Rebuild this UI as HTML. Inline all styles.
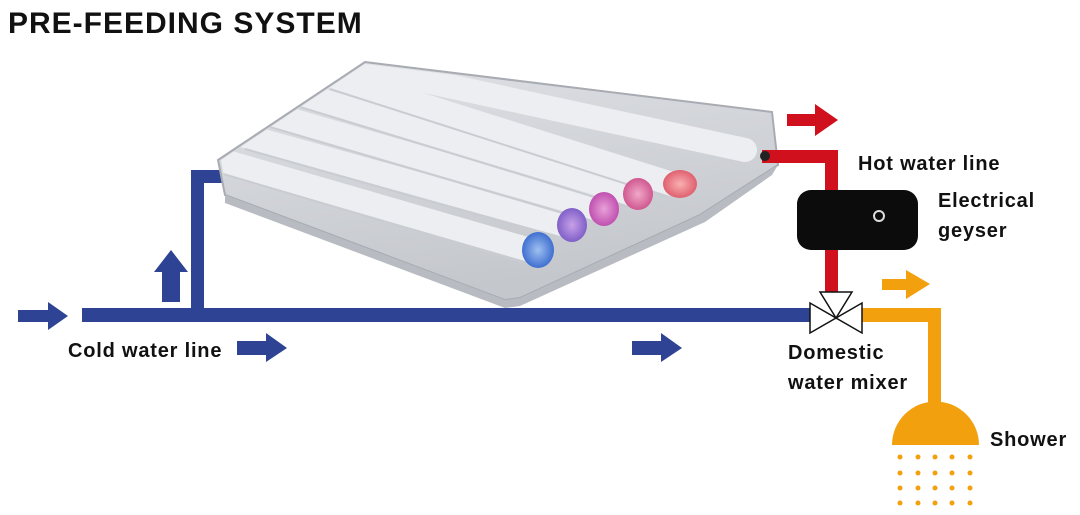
<!DOCTYPE html>
<html><head><meta charset="utf-8"><style>
html,body{margin:0;padding:0;background:#fff;}
svg{display:block}
text{font-family:"Liberation Sans",sans-serif;fill:#111;}
</style></head><body>
<svg width="1080" height="515" viewBox="0 0 1080 515" xmlns="http://www.w3.org/2000/svg">
<defs>
<linearGradient id="box" x1="0" y1="0" x2="0.3" y2="1">
<stop offset="0" stop-color="#dfe1e5"/><stop offset="1" stop-color="#c4c7cc"/>
</linearGradient>
<clipPath id="cp"><polygon points="365,64 770,114 776,163 700,213 520,296 505,298 227,193 221,160"/></clipPath>
<radialGradient id="t1"><stop offset="0" stop-color="#9fc0f0"/><stop offset="1" stop-color="#3f6fd0"/></radialGradient>
<radialGradient id="t2"><stop offset="0" stop-color="#c8a0e8"/><stop offset="1" stop-color="#8060c8"/></radialGradient>
<radialGradient id="t3"><stop offset="0" stop-color="#e8a0d8"/><stop offset="1" stop-color="#c050b0"/></radialGradient>
<radialGradient id="t4"><stop offset="0" stop-color="#f0a8c8"/><stop offset="1" stop-color="#d05890"/></radialGradient>
<radialGradient id="t5"><stop offset="0" stop-color="#f8b0b0"/><stop offset="1" stop-color="#e06070"/></radialGradient>
</defs>
<text x="8" y="33" font-size="30" font-weight="bold" style="fill:#111;letter-spacing:1px">PRE-FEEDING SYSTEM</text>

<g fill="#2e4393">
<rect x="82" y="308" width="730" height="14"/>
<rect x="191" y="170" width="13" height="145"/>
<rect x="191" y="170" width="35" height="13"/>
<polygon points="18,310 48,310 48,302 68,316 48,330 48,322 18,322"/>
<polygon points="162,302 162,272 154,272 171,250 188,272 180,272 180,302"/>
<polygon points="237,341 266,341 266,333 287,348 266,362 266,355 237,355"/>
<polygon points="632,341 661,341 661,333 682,348 661,362 661,355 632,355"/>
</g>

<polygon points="365,62 772,112 778,165 700,215 520,298 505,300 225,195 218,160" fill="url(#box)" stroke="#a8acb2" stroke-width="2"/>
<g clip-path="url(#cp)">
<g stroke="#eceef1" stroke-width="24" stroke-linecap="round">
<line x1="220" y1="160" x2="530" y2="250"/>
<line x1="245" y1="136" x2="565" y2="225"/>
<line x1="270" y1="114" x2="598" y2="209"/>
<line x1="300" y1="94" x2="632" y2="194"/>
<line x1="330" y1="76" x2="672" y2="184"/>
<line x1="365" y1="68" x2="745" y2="150"/>
</g>
<g stroke="#c9ccd1" stroke-width="2">
<line x1="220" y1="173" x2="525" y2="263"/>
<line x1="245" y1="149" x2="560" y2="238"/>
<line x1="270" y1="127" x2="593" y2="222"/>
<line x1="300" y1="107" x2="627" y2="207"/>
<line x1="330" y1="89" x2="667" y2="197"/>
</g>
</g>
<polygon points="225,195 505,300 520,298 700,215 778,165 772,175 705,222 520,306 505,308 225,203" fill="#b8bcc2"/>
<ellipse cx="538" cy="250" rx="16" ry="18" fill="url(#t1)"/>
<ellipse cx="572" cy="225" rx="15" ry="17" fill="url(#t2)"/>
<ellipse cx="604" cy="209" rx="15" ry="17" fill="url(#t3)"/>
<ellipse cx="638" cy="194" rx="15" ry="16" fill="url(#t4)"/>
<ellipse cx="680" cy="184" rx="17" ry="14" fill="url(#t5)"/>

<g fill="#d0101c">
<polygon points="787,114 815,114 815,104 838,120 815,136 815,126 787,126"/>
<rect x="762" y="150" width="76" height="13"/>
<rect x="825" y="150" width="13" height="40"/>
<rect x="825" y="244" width="13" height="48"/>
</g>
<circle cx="765" cy="156" r="5" fill="#222"/>
<rect x="797" y="190" width="121" height="60" rx="14" fill="#0c0c0c"/>
<circle cx="879" cy="216" r="5" fill="none" stroke="#ddd" stroke-width="2"/>

<g fill="#f2a00e">
<rect x="862" y="308" width="79" height="14"/>
<rect x="928" y="308" width="13" height="100"/>
<path d="M892,445 A43,43 0 0 1 979,445 Z"/>
<polygon points="882,279 906,279 906,270 930,284 906,299 906,290 882,290"/>
</g>
<g fill="#f2a00e">
<circle cx="900" cy="457" r="2.5"/><circle cx="918" cy="457" r="2.5"/><circle cx="935" cy="457" r="2.5"/><circle cx="952" cy="457" r="2.5"/><circle cx="970" cy="457" r="2.5"/>
<circle cx="900" cy="473" r="2.5"/><circle cx="918" cy="473" r="2.5"/><circle cx="935" cy="473" r="2.5"/><circle cx="952" cy="473" r="2.5"/><circle cx="970" cy="473" r="2.5"/>
<circle cx="900" cy="488" r="2.5"/><circle cx="918" cy="488" r="2.5"/><circle cx="935" cy="488" r="2.5"/><circle cx="952" cy="488" r="2.5"/><circle cx="970" cy="488" r="2.5"/>
<circle cx="900" cy="503" r="2.5"/><circle cx="918" cy="503" r="2.5"/><circle cx="935" cy="503" r="2.5"/><circle cx="952" cy="503" r="2.5"/><circle cx="970" cy="503" r="2.5"/>
</g>

<g fill="#fff" stroke="#111" stroke-width="1.5">
<polygon points="810,303 810,333 836,318"/>
<polygon points="862,303 862,333 836,318"/>
<polygon points="820,292 852,292 836,318"/>
</g>

<g font-size="20" font-weight="bold" style="letter-spacing:0.8px">
<text x="858" y="170">Hot water line</text>
<text x="938" y="207">Electrical</text>
<text x="938" y="237">geyser</text>
<text x="788" y="359">Domestic</text>
<text x="788" y="389">water mixer</text>
<text x="990" y="446">Shower</text>
<text x="68" y="357">Cold water line</text>
</g>
</svg>
</body></html>
